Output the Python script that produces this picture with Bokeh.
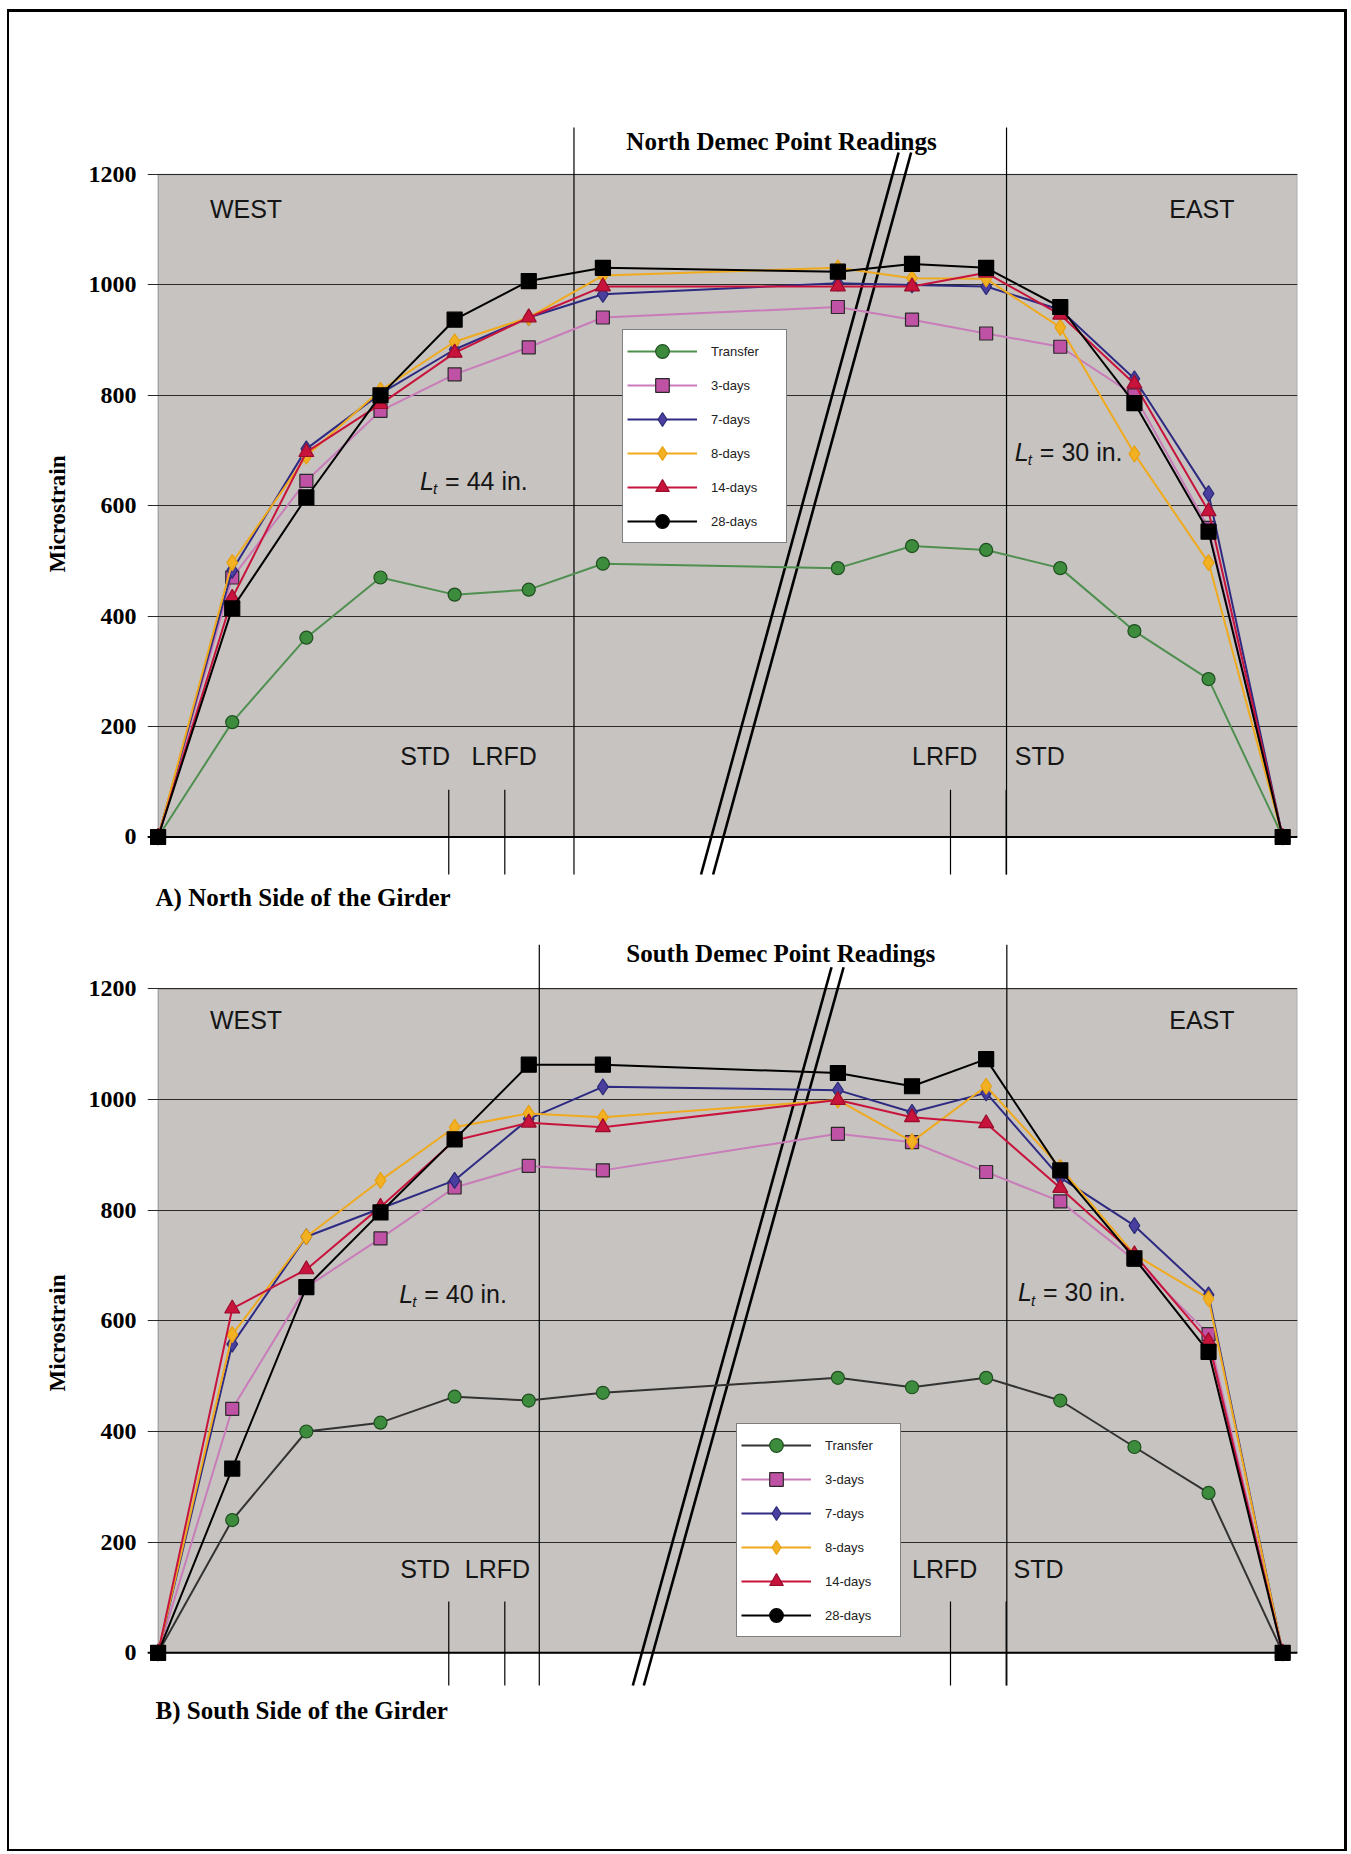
from bokeh.plotting import figure
from bokeh.layouts import column
from bokeh.models import FixedTicker, BoxAnnotation, Span, Legend, LegendItem
from bokeh.core.properties import value
from bokeh.embed import file_html
from bokeh.resources import INLINE

# ---------------- data ----------------
# gauge (Demec point) positions along the girder; the axis is broken between 6 and 9.17
positions = [0, 1, 2, 3, 4, 5, 6, 9.17, 10.17, 11.17, 12.17, 13.17, 14.17, 15.17]
series_names = ["Transfer", "3-days", "7-days", "8-days", "14-days", "28-days"]
y_ticks = [0, 200, 400, 600, 800, 1000, 1200]

north_transfer = [0, 208, 361, 470, 439, 448, 495, 487, 527, 520, 487, 373, 286, 0]
north_3d = [0, 470, 645, 772, 838, 887, 941, 960, 937, 912, 888, 800, 560, 0]
north_7d = [0, 483, 703, 803, 883, 941, 983, 1003, 1000, 997, 955, 830, 622, 0]
north_8d = [0, 497, 690, 809, 897, 941, 1017, 1031, 1012, 1011, 923, 694, 497, 0]
north_14d = [0, 433, 697, 784, 877, 941, 997, 997, 997, 1022, 946, 821, 590, 0]
north_28d = [0, 414, 615, 800, 937, 1007, 1031, 1024, 1038, 1031, 960, 786, 553, 0]

south_transfer = [0, 240, 400, 416, 463, 456, 470, 497, 480, 497, 456, 372, 289, 0]
south_3d = [0, 441, 661, 749, 841, 880, 872, 938, 923, 869, 816, 710, 576, 0]
south_7d = [0, 558, 752, 803, 854, 965, 1023, 1017, 977, 1012, 859, 772, 647, 0]
south_8d = [0, 575, 752, 854, 950, 975, 968, 999, 924, 1024, 877, 720, 640, 0]
south_14d = [0, 622, 693, 806, 926, 958, 950, 999, 968, 957, 840, 720, 563, 0]
south_28d = [0, 333, 661, 796, 928, 1063, 1063, 1048, 1024, 1073, 872, 713, 544, 0]

# ---------------- styles ----------------
GRAY = "#c6c3c0"
fills = ["#3d8c3d", "#c052a6", "#4a3f9e", "#f2b122", "#c8143c", "#000000"]
outlines = ["#1f4f1f", "#2a2a2a", "#2c2a78", "#e8a012", "#9a0c2c", "#000000"]
north_lines = ["#4f8f4f", "#c97cb9", "#2e2a82", "#f0aa1e", "#c8143c", "#000000"]
south_lines = ["#333333", "#c97cb9", "#2e2a82", "#f0aa1e", "#c8143c", "#000000"]
chart_markers = ["circle", "square", "diamond", "diamond", "triangle", "square"]
legend_markers = ["circle", "square", "diamond", "diamond", "triangle", "circle"]
marker_sizes = [13, 13, 16, 16, 15, 15]

X0, X1 = -0.143, 15.37
SERIF = "Liberation Serif"
SANS = "Liberation Sans"


def build(series, line_colors, cfg):
    p = figure(width=1351, height=cfg["height"], x_range=(X0, X1),
               y_range=(cfg["ybot"], cfg["ytop"]), output_backend="svg",
               toolbar_location=None, title=None, x_axis_type=None,
               min_border_left=147, min_border_right=54,
               min_border_top=cfg["mtop"], min_border_bottom=cfg["mbot"],
               background_fill_color="white", border_fill_color="white",
               border_fill_alpha=0.0, outline_line_color=None)
    # gray plot area
    p.add_layout(BoxAnnotation(left=0, right=X1, bottom=0, top=1200,
                               fill_color=GRAY, fill_alpha=1.0,
                               line_color="#3c3c3c", line_width=1.5,
                               level="image"))
    p.ygrid.ticker = FixedTicker(ticks=y_ticks)
    p.ygrid.grid_line_color = "#2a2a2a"
    p.ygrid.grid_line_width = 1
    p.add_layout(Span(location=0, dimension="width", line_color="black",
                      line_width=2, level="underlay"))

    ax = p.yaxis[0]
    ax.ticker = FixedTicker(ticks=y_ticks)
    ax.axis_line_color = None
    ax.major_tick_line_color = None
    ax.major_tick_out = 0
    ax.major_tick_in = 0
    ax.minor_tick_line_color = None
    ax.minor_tick_out = 0
    ax.major_label_standoff = 11
    ax.major_label_text_font = SERIF
    ax.major_label_text_font_style = "bold"
    ax.major_label_text_font_size = "24px"
    ax.major_label_text_color = "black"
    ax.axis_label = "Microstrain"
    ax.axis_label_text_font = SERIF
    ax.axis_label_text_font_style = "bold"
    ax.axis_label_text_font_size = "23px"
    ax.axis_label_text_color = "black"
    ax.axis_label_standoff = 16

    # reference lines (section limits and transfer-length markers)
    p.segment(x0=cfg["long_x"], y0=[cfg["long_top"]] * 2, x1=cfg["long_x"],
              y1=[cfg["line_bot"]] * 2, line_color="black", line_width=1.2)
    p.segment(x0=cfg["short_x"], y0=[cfg["short_top"]] * 4, x1=cfg["short_x"],
              y1=[cfg["line_bot"]] * 4, line_color="black", line_width=1.2)
    # axis-break double line
    p.segment(x0=cfg["brk_top_x"], y0=[cfg["brk_top_y"]] * 2, x1=cfg["brk_bot_x"],
              y1=[cfg["line_bot"]] * 2, line_color="black", line_width=2.6)

    items = []
    for i, name in enumerate(series_names):
        lr = p.line(positions, series[i], line_color=line_colors[i], line_width=2)
        p.scatter(positions, series[i], marker=chart_markers[i], size=marker_sizes[i],
                  fill_color=fills[i], line_color=outlines[i], line_width=1.2)
        lg = p.scatter(positions, series[i], marker=legend_markers[i], size=marker_sizes[i],
                       fill_color=fills[i], line_color=outlines[i], line_width=1.2,
                       visible=False)
        items.append(LegendItem(label=name, renderers=[lr, lg]))

    legend = Legend(items=items, location=cfg["legend_loc"], orientation="vertical",
                    border_line_color="black", border_line_width=1.5,
                    background_fill_color="white", background_fill_alpha=1.0,
                    padding=4, spacing=0, glyph_height=34, glyph_width=70,
                    label_height=34, label_standoff=14, label_width=71,
                    label_text_font=SANS, label_text_font_size="13px",
                    label_text_color="#222222", margin=0)
    p.add_layout(legend)

    # texts
    p.text(x=[cfg["title_xy"][0]], y=[cfg["title_xy"][1]], text=[cfg["title"]],
           text_font=value(SERIF), text_font_style="bold", text_font_size="25px",
           text_align="center", text_baseline="middle", text_color="black")
    p.text(x=[cfg["caption_xy"][0]], y=[cfg["caption_xy"][1]], text=[cfg["caption"]],
           text_font=value(SERIF), text_font_style="bold", text_font_size="25px",
           text_align="left", text_baseline="middle", text_color="black")
    p.text(x=cfg["side_x"], y=[cfg["side_y"]] * 2, text=["WEST", "EAST"],
           text_font=value(SANS), text_font_size="25px", text_align="center",
           text_baseline="middle", text_color="#151515")
    p.text(x=cfg["code_x"], y=[cfg["code_y"]] * 4, text=["STD", "LRFD", "LRFD", "STD"],
           text_font=value(SANS), text_font_size="25px", text_align="left",
           text_baseline="middle", text_color="#151515")
    lx = [c[0] for c in cfg["lt"]]
    ly = [c[1] for c in cfg["lt"]]
    p.text(x=lx, y=ly, text=["L", "L"], text_font=value(SANS), text_font_style="italic",
           text_font_size="25px", text_align="left", text_baseline="middle",
           text_color="#151515")
    p.text(x=lx, y=ly, text=["t", "t"], x_offset=13, y_offset=8, text_font=value(SANS),
           text_font_style="italic", text_font_size="15px", text_align="left",
           text_baseline="middle", text_color="#151515")
    p.text(x=lx, y=ly, text=cfg["lt_text"], x_offset=25, text_font=value(SANS),
           text_font_size="25px", text_align="left", text_baseline="middle",
           text_color="#151515")
    return p


north_cfg = dict(
    height=920, mtop=112, mbot=5, ybot=-142.2, ytop=1312.3,
    long_x=[5.61, 11.445], long_top=1285, line_bot=-67.9,
    short_x=[3.921, 4.677, 10.689, 11.44], short_top=85.5,
    brk_top_x=[9.989, 10.158], brk_top_y=1239.8, brk_bot_x=[7.324, 7.487],
    legend_loc=(475, 372),
    title="North Demec Point Readings", title_xy=(8.41, 1259.7),
    caption="A) North Side of the Girder", caption_xy=(-0.035, -109),
    side_x=[1.186, 14.08], side_y=1138,
    code_x=[3.265, 4.228, 10.17, 11.557], code_y=146.5,
    lt=[(3.534, 645.7), (11.557, 698.2)], lt_text=["= 44 in.", "= 30 in."],
)
south_cfg = dict(
    height=934, mtop=15, mbot=124, ybot=-140.4, ytop=1296.5,
    long_x=[5.142, 11.449], long_top=1280, line_bot=-59.1,
    short_x=[3.921, 4.677, 10.689, 11.44], short_top=92.7,
    brk_top_x=[9.084, 9.247], brk_top_y=1239.1, brk_bot_x=[6.404, 6.552],
    legend_loc=(589, 93),
    title="South Demec Point Readings", title_xy=(8.40, 1263.5),
    caption="B) South Side of the Girder", caption_xy=(-0.035, -104.3),
    side_x=[1.186, 14.08], side_y=1143,
    code_x=[3.265, 4.137, 10.17, 11.54], code_y=151,
    lt=[(3.252, 649.4), (11.60, 651.4)], lt_text=["= 40 in.", "= 30 in."],
)

p1 = build([north_transfer, north_3d, north_7d, north_8d, north_14d, north_28d],
           north_lines, north_cfg)
p2 = build([south_transfer, south_3d, south_7d, south_8d, south_14d, south_28d],
           south_lines, south_cfg)

# page frame drawn as the layout's background (figures have transparent borders)
page_frame = ("linear-gradient(#000,#000) 7px 9px / 2px 1842px no-repeat, "
              "linear-gradient(#000,#000) 1344px 9px / 3px 1842px no-repeat, "
              "linear-gradient(#000,#000) 7px 9px / 1340px 3px no-repeat, "
              "linear-gradient(#000,#000) 7px 1849px / 1340px 2px no-repeat, #ffffff")
layout = column(p1, p2, spacing=0, styles={"background": page_frame})
open("out.html", "w").write(file_html(layout, INLINE))
